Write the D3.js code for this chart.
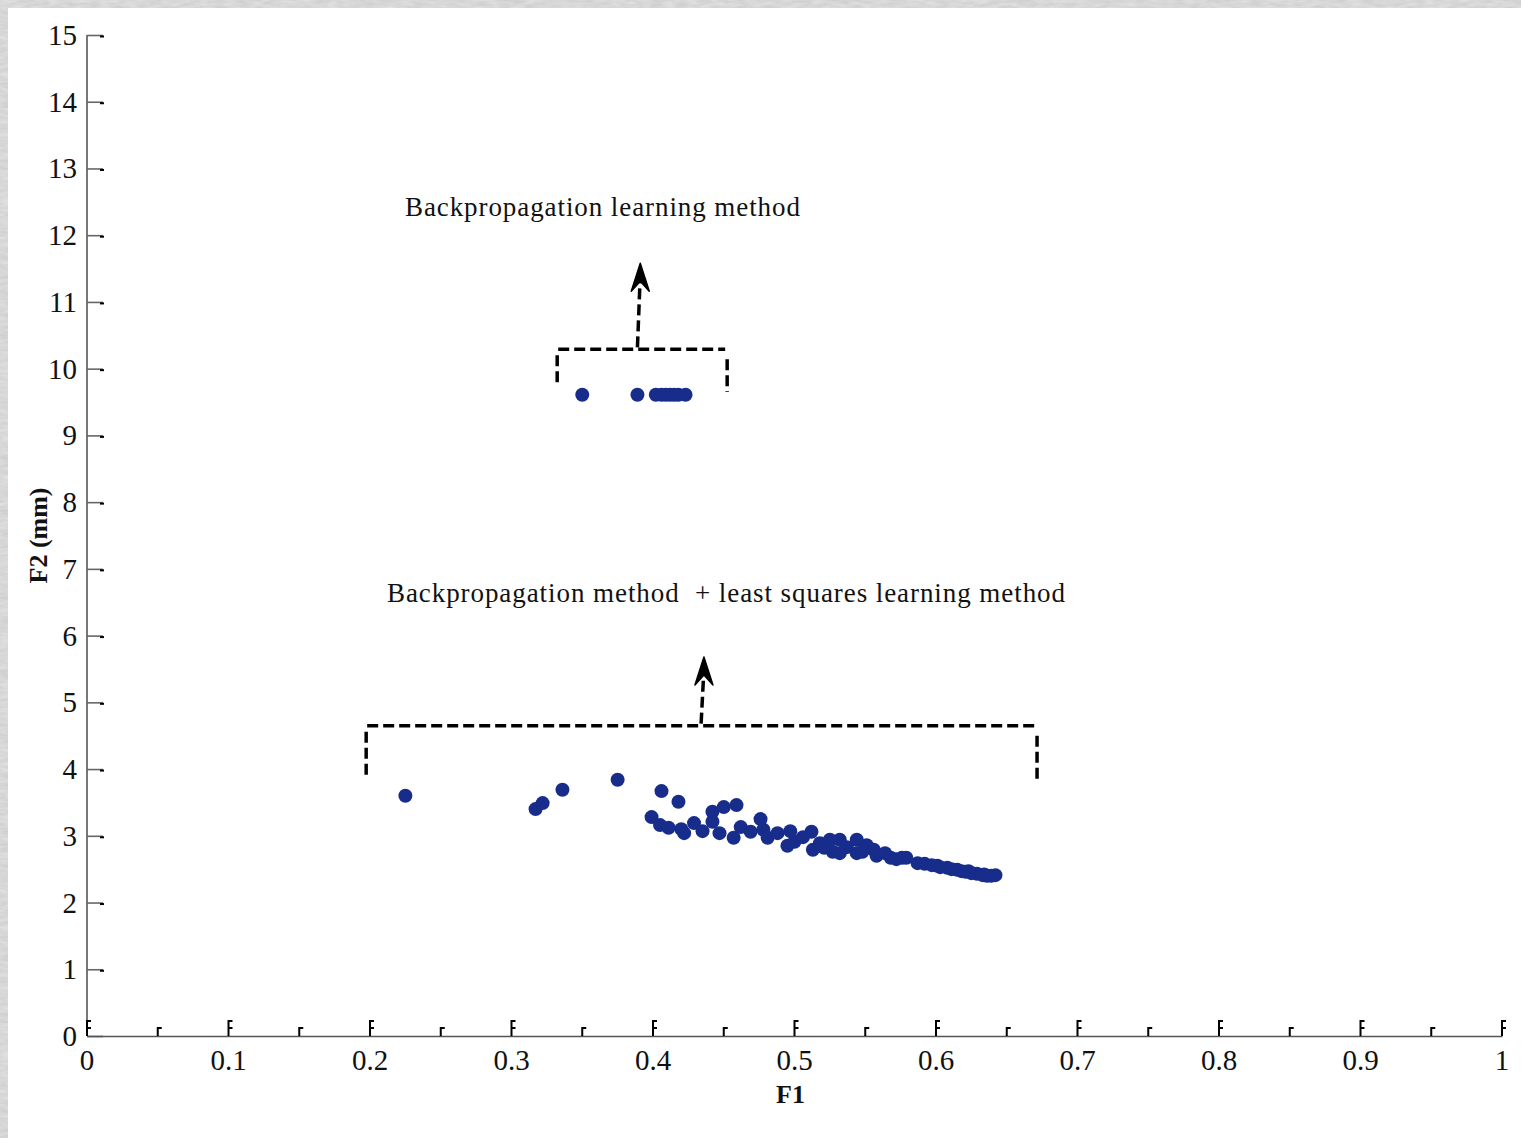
<!DOCTYPE html>
<html>
<head>
<meta charset="utf-8">
<script src="https://cdn.jsdelivr.net/npm/d3@7"></script>
<style>
  html, body { margin: 0; padding: 0; background: #cbcbcb; }
  svg { display: block; }
  text { font-family: "Liberation Serif", "DejaVu Serif", serif; fill: #111; }
</style>
</head>
<body>
<svg id="chart" width="1521" height="1138"></svg>
<script>
// Pareto front points: backpropagation alone (upper cluster)
const bpF1 = [0.350, 0.389, 0.402, 0.406, 0.409, 0.412, 0.415, 0.418, 0.423];
const bpF2 = [9.61, 9.61, 9.61, 9.61, 9.61, 9.61, 9.61, 9.61, 9.61];

// Pareto front points: backpropagation + least squares (lower cluster)
const hybF1 = [0.225, 0.317, 0.322, 0.336, 0.375, 0.406, 0.418, 0.399, 0.405, 0.411,
  0.420, 0.422, 0.429, 0.435, 0.442, 0.442, 0.450, 0.459, 0.447, 0.457,
  0.462, 0.469, 0.476, 0.478, 0.481, 0.488, 0.497, 0.495, 0.500, 0.506,
  0.512, 0.513, 0.518, 0.525, 0.527, 0.532, 0.532, 0.537, 0.544, 0.544,
  0.551, 0.556, 0.558, 0.564, 0.568, 0.576, 0.579, 0.587, 0.592, 0.597,
  0.601, 0.608, 0.611, 0.615, 0.618, 0.621, 0.625, 0.629, 0.633, 0.636,
  0.639, 0.642, 0.521, 0.548, 0.572, 0.603, 0.623, 0.634];
const hybF2 = [3.60, 3.40, 3.49, 3.69, 3.84, 3.67, 3.51, 3.28, 3.16, 3.12,
  3.10, 3.04, 3.19, 3.07, 3.36, 3.21, 3.43, 3.46, 3.04, 2.97,
  3.13, 3.06, 3.25, 3.09, 2.97, 3.04, 3.07, 2.85, 2.91, 2.98,
  3.06, 2.79, 2.89, 2.94, 2.76, 2.94, 2.74, 2.83, 2.94, 2.74,
  2.86, 2.79, 2.70, 2.74, 2.67, 2.67, 2.67, 2.59, 2.58, 2.56,
  2.55, 2.52, 2.50, 2.49, 2.47, 2.46, 2.44, 2.43, 2.41, 2.40,
  2.40, 2.41, 2.82, 2.76, 2.65, 2.53, 2.47, 2.42];

// Axis ticks
const xTicks = [0, 0.1, 0.2, 0.3, 0.4, 0.5, 0.6, 0.7, 0.8, 0.9, 1];
const xTickLabels = ["0", "0.1", "0.2", "0.3", "0.4", "0.5", "0.6", "0.7", "0.8", "0.9", "1"];
const xMinorTicks = [0.05, 0.15, 0.25, 0.35, 0.45, 0.55, 0.65, 0.75, 0.85, 0.95];
const yTicks = [0, 1, 2, 3, 4, 5, 6, 7, 8, 9, 10, 11, 12, 13, 14, 15];

// Annotation texts
const topLabel = "Backpropagation learning method";
const bottomLabel = "Backpropagation method\u00A0\u00A0+ least squares learning method";

const svg = d3.select("#chart");
const W = 1521, H = 1138;

// textured grey frame with white sheet on top
const defs = svg.append("defs");
const f = defs.append("filter").attr("id", "grain")
  .attr("x", 0).attr("y", 0).attr("width", "100%").attr("height", "100%");
f.append("feTurbulence").attr("type", "fractalNoise")
  .attr("baseFrequency", "0.08 0.3").attr("numOctaves", 2).attr("seed", 4).attr("result", "n");
f.append("feColorMatrix").attr("type", "matrix")
  .attr("values", "0 0 0 0 0.75  0 0 0 0 0.75  0 0 0 0 0.75  0 0 0 -0.9 1.15");
svg.append("rect").attr("width", W).attr("height", H).attr("fill", "#c2c2c2");
svg.append("rect").attr("width", W).attr("height", H).attr("filter", "url(#grain)");
svg.append("rect").attr("x", 8).attr("y", 8).attr("width", W - 8).attr("height", H - 8).attr("fill", "#fff");

const x = d3.scaleLinear().domain([0, 1]).range([87, 1502]);
const y = d3.scaleLinear().domain([0, 15]).range([1036, 35]);

// y axis
const yAxis = svg.append("g").attr("transform", `translate(${x(0)},0)`)
  .call(d3.axisRight(y).tickValues(yTicks).tickSize(16).tickFormat(""));
yAxis.select(".domain").attr("stroke", "#555").attr("stroke-width", 1.6).attr("d", `M0,${y(15)}V${y(0)}`);
yAxis.selectAll(".tick line").attr("stroke", "#666").attr("stroke-width", 1.6);
yAxis.selectAll(".tick").filter(d => d > 0).append("line")
  .attr("x1", 13).attr("x2", 17).attr("y1", 1).attr("y2", 1)
  .attr("stroke", "#000").attr("stroke-width", 2);

svg.append("g").selectAll("text").data(yTicks).join("text")
  .attr("x", 77).attr("y", d => y(d) + 10)
  .attr("text-anchor", "end").attr("font-size", 29)
  .text(d => d);

// x axis baseline
const xAxis = svg.append("g").attr("transform", `translate(0,${y(0)})`)
  .call(d3.axisTop(x).tickValues([]).tickSizeOuter(0));
xAxis.select(".domain").attr("stroke", "#555").attr("stroke-width", 1.6);

// x tick marks drawn upward with small serifs
const tickG = svg.append("g").attr("stroke", "#000").attr("stroke-width", 2).attr("fill", "none");
tickG.selectAll("path.major").data(xTicks).join("path").attr("class", "major")
  .attr("d", d => {
    const px = x(d), b = y(0);
    return `M${px},${b}V${b - 15}h4M${px},${b - 8}h4`;
  });
tickG.selectAll("path.minor").data(xMinorTicks).join("path").attr("class", "minor")
  .attr("d", d => {
    const px = x(d), b = y(0);
    return `M${px},${b}V${b - 8}h4`;
  });

svg.append("g").selectAll("text").data(xTicks).join("text")
  .attr("x", d => x(d)).attr("y", y(0) + 34)
  .attr("text-anchor", "middle").attr("font-size", 29)
  .text((d, i) => xTickLabels[i]);

// axis titles
svg.append("text").attr("x", x(0.5) - 4).attr("y", 1103)
  .attr("text-anchor", "middle").attr("font-size", 26).attr("font-weight", "bold").text("F1");
svg.append("text").attr("transform", `translate(47,${y(7.5)}) rotate(-90)`)
  .attr("text-anchor", "middle").attr("font-size", 26).attr("font-weight", "bold").text("F2 (mm)");

// scatter points
const color = "#172c8b";
const pts = svg.append("g").attr("fill", color);
pts.selectAll("circle.bp").data(bpF1.map((v, i) => [v, bpF2[i]])).join("circle")
  .attr("class", "bp").attr("cx", d => x(d[0])).attr("cy", d => y(d[1])).attr("r", 7);
pts.selectAll("circle.hyb").data(hybF1.map((v, i) => [v, hybF2[i]])).join("circle")
  .attr("class", "hyb").attr("cx", d => x(d[0])).attr("cy", d => y(d[1])).attr("r", 7);

// dashed brackets with arrows
function bracket(x0, x1, yTop, yLeftEnd, yRightEnd, ax0, ax1, yTip) {
  const g = svg.append("g").attr("stroke", "#000").attr("stroke-width", 3.5).attr("fill", "none")
    .attr("stroke-dasharray", "11,5");
  g.append("path").attr("d", `M${x(x0)},${y(yTop)}H${x(x1)}`);
  g.append("path").attr("d", `M${x(x0) - 1},${y(yTop) + 6}V${y(yLeftEnd)}`);
  g.append("path").attr("d", `M${x(x1) + 2},${y(yTop) + 10}V${y(yRightEnd)}`);
  g.append("path").attr("d", `M${x(ax0)},${y(yTop) - 2}L${x(ax1)},${y(yTip) + 12}`);
  const tx = x(ax1), ty = y(yTip);
  svg.append("path")
    .attr("d", `M${tx},${ty}L${tx + 9},${ty + 28}L${tx},${ty + 18}L${tx - 9},${ty + 28}Z`)
    .attr("fill", "#000").attr("stroke", "#000").attr("stroke-width", 1.5).attr("stroke-linejoin", "round");
}
bracket(0.333, 0.451, 10.29, 9.72, 9.65, 0.389, 0.391, 11.58);
bracket(0.198, 0.670, 4.65, 3.90, 3.85, 0.434, 0.436, 5.68);

// annotation labels
svg.append("text").attr("x", x(0.2247)).attr("y", y(12.29))
  .attr("font-size", 27).attr("textLength", 395).text(topLabel);
svg.append("text").attr("x", x(0.212)).attr("y", y(6.5))
  .attr("font-size", 27).attr("textLength", 678).text(bottomLabel);
</script>
</body>
</html>
